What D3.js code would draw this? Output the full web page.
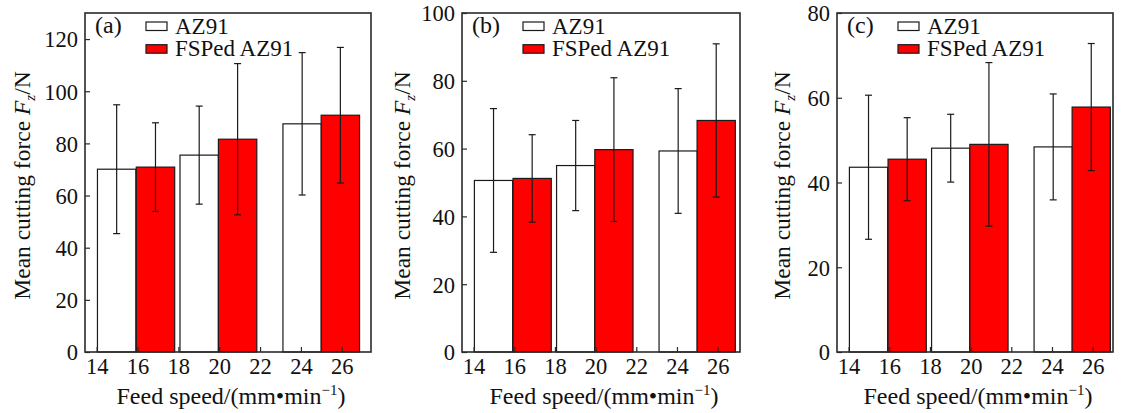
<!DOCTYPE html>
<html>
<head>
<meta charset="utf-8">
<script src="https://cdnjs.cloudflare.com/ajax/libs/d3/7.8.5/d3.min.js"></script>
<style>
  body { margin: 0; background: #fff; }
  svg text { font-family: "Liberation Serif", "Times New Roman", serif; fill: #111; }
</style>
</head>
<body>
<div id="chart"></div>
<script>
// feed speed ticks
var xTicks = [14, 16, 18, 20, 22, 24, 26];
// bar centres on the feed speed axis
var xAZ91 = [14.98, 19.02, 24.06];
var xFSPed = [16.88, 20.9, 25.93];
var barWidth = 1.88;

// (a)
var meanA_AZ91 = [70.1, 75.5, 87.5];
var errA_AZ91 = [24.7, 18.8, 27.3];
var meanA_FSPed = [70.9, 81.6, 90.8];
var errA_FSPed = [17, 29, 26];
var yTicksA = [0, 20, 40, 60, 80, 100, 120];

// (b)
var meanB_AZ91 = [50.6, 55.0, 59.3];
var errB_AZ91 = [21.2, 13.3, 18.4];
var meanB_FSPed = [51.2, 59.7, 68.3];
var errB_FSPed = [12.9, 21.2, 22.6];
var yTicksB = [0, 20, 40, 60, 80, 100];

// (c)
var meanC_AZ91 = [43.6, 48.1, 48.4];
var errC_AZ91 = [17, 8, 12.5];
var meanC_FSPed = [45.5, 49.0, 57.8];
var errC_FSPed = [9.8, 19.3, 15];
var yTicksC = [0, 20, 40, 60, 80];

var legendLabels = ['AZ91', 'FSPed AZ91'];

var panels = [
    { tag: '(a)', left: 85, right: 371, xMax: 27.43, yMax: 130, yTicks: yTicksA, titleX: 30,
      az: meanA_AZ91, azErr: errA_AZ91, fs: meanA_FSPed, fsErr: errA_FSPed },
    { tag: '(b)', left: 462, right: 740, xMax: 27.1, yMax: 100, yTicks: yTicksB, titleX: 410,
      az: meanB_AZ91, azErr: errB_AZ91, fs: meanB_FSPed, fsErr: errB_FSPed },
    { tag: '(c)', left: 837, right: 1113, xMax: 27.0, yMax: 80, yTicks: yTicksC, titleX: 790,
      az: meanC_AZ91, azErr: errC_AZ91, fs: meanC_FSPed, fsErr: errC_FSPed }
];

var width = 1123, height = 413;
var plotTop = 13, plotBottom = 352;
var frameColor = '#2a2a2a';

var svg = d3.select('#chart').append('svg')
    .attr('width', width)
    .attr('height', height);

svg.append('rect').attr('width', width).attr('height', height).attr('fill', '#fff');

panels.forEach(function (p) {
    var x = d3.scaleLinear().domain([13.43, p.xMax]).range([p.left, p.right]);
    var y = d3.scaleLinear().domain([0, p.yMax]).range([plotBottom, plotTop]);
    var g = svg.append('g');

    var series = [
        { xs: xAZ91, means: p.az, errs: p.azErr, fill: '#fff' },
        { xs: xFSPed, means: p.fs, errs: p.fsErr, fill: '#ff0000' }
    ];

    series.forEach(function (s) {
        var rows = s.means.map(function (m, i) { return { x: s.xs[i], m: m, e: s.errs[i] }; });
        g.selectAll(null).data(rows).enter().append('rect')
            .attr('x', function (d) { return x(d.x - barWidth / 2); })
            .attr('width', function (d) { return x(d.x + barWidth / 2) - x(d.x - barWidth / 2); })
            .attr('y', function (d) { return y(d.m); })
            .attr('height', function (d) { return y(0) - y(d.m); })
            .attr('fill', s.fill)
            .attr('stroke', '#1a1a1a')
            .attr('stroke-width', 1.2);

        var eb = g.selectAll(null).data(rows).enter().append('g')
            .attr('stroke', '#1a1a1a')
            .attr('stroke-width', 1.2);
        eb.append('line')
            .attr('x1', function (d) { return x(d.x); })
            .attr('x2', function (d) { return x(d.x); })
            .attr('y1', function (d) { return y(d.m + d.e); })
            .attr('y2', function (d) { return y(d.m - d.e); });
        [1, -1].forEach(function (sign) {
            eb.append('line')
                .attr('x1', function (d) { return x(d.x) - 3.5; })
                .attr('x2', function (d) { return x(d.x) + 3.5; })
                .attr('y1', function (d) { return y(d.m + sign * d.e); })
                .attr('y2', function (d) { return y(d.m + sign * d.e); });
        });
    });

    // axes, ticks inward
    var xAxis = g.append('g')
        .attr('transform', 'translate(0,' + plotBottom + ')')
        .call(d3.axisBottom(x).tickValues(xTicks).tickSizeInner(-5).tickSizeOuter(0).tickPadding(5));
    var yAxis = g.append('g')
        .attr('transform', 'translate(' + p.left + ',0)')
        .call(d3.axisLeft(y).tickValues(p.yTicks).tickSizeInner(-5).tickSizeOuter(0).tickPadding(7));
    [xAxis, yAxis].forEach(function (a) {
        a.select('.domain').remove();
        a.selectAll('line').attr('stroke', frameColor).attr('stroke-width', 1.2);
        a.selectAll('text')
            .attr('font-family', '"Liberation Serif", serif')
            .attr('font-size', 22.5)
            .attr('fill', '#111');
    });
    yAxis.selectAll('text').attr('dy', '0.35em');
    xAxis.selectAll('text').attr('dy', '0.75em');

    g.append('rect')
        .attr('x', p.left).attr('y', plotTop)
        .attr('width', p.right - p.left).attr('height', plotBottom - plotTop)
        .attr('fill', 'none')
        .attr('stroke', frameColor)
        .attr('stroke-width', 1.6);

    // panel tag and legend
    g.append('text').attr('x', p.left + 10).attr('y', 33).attr('font-size', 24).text(p.tag);
    var legend = g.selectAll(null).data(legendLabels).enter().append('g')
        .attr('transform', function (d, i) { return 'translate(' + (p.left + 61) + ',' + (22 + i * 22.7) + ')'; });
    legend.append('rect')
        .attr('width', 21).attr('height', 8.5)
        .attr('fill', function (d, i) { return i === 0 ? '#fff' : '#ff0000'; })
        .attr('stroke', '#1a1a1a').attr('stroke-width', 1.2);
    legend.append('text')
        .attr('x', 29).attr('y', 11.5)
        .attr('font-size', 23)
        .text(function (d) { return d; });

    // axis titles
    var xt = g.append('text')
        .attr('x', (p.left + p.right) / 2 + 3)
        .attr('y', 404)
        .attr('text-anchor', 'middle')
        .attr('font-size', 24);
    xt.append('tspan').text('Feed speed/(mm\u2022min');
    xt.append('tspan').attr('dy', -9).attr('font-size', 15).text('\u22121');
    xt.append('tspan').attr('dy', 9).text(')');

    var yt = g.append('text')
        .attr('transform', 'translate(' + p.titleX + ',' + ((plotTop + plotBottom) / 2 + 3) + ') rotate(-90)')
        .attr('text-anchor', 'middle')
        .attr('font-size', 23.5);
    yt.append('tspan').text('Mean cutting force ');
    yt.append('tspan').attr('font-style', 'italic').text('F');
    yt.append('tspan').attr('font-style', 'italic').attr('font-size', 15).attr('dy', 5).text('z');
    yt.append('tspan').attr('dy', -5).text('/N');
});
</script>
</body>
</html>
